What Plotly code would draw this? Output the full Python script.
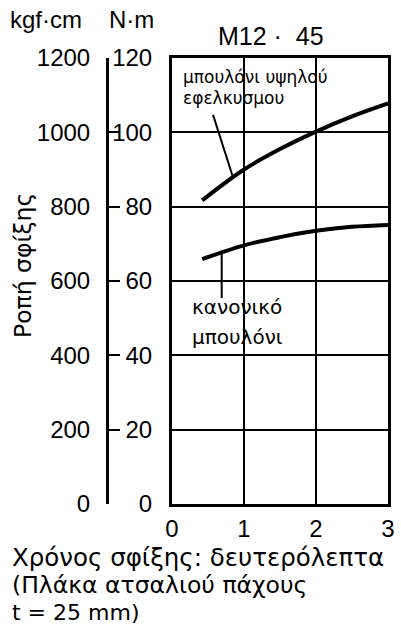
import plotly.graph_objects as go

# Data
time_high = [0.42, 1.0, 1.5, 2.0, 2.5, 3.0]
torque_high = [81.7, 90.0, 95.5, 100.2, 104.3, 107.8]
time_norm = [0.42, 1.0, 1.5, 2.0, 2.5, 3.0]
torque_norm = [65.9, 69.6, 71.8, 73.5, 74.6, 75.1]
x_ticks = [0, 1, 2, 3]
nm_ticks = [0, 20, 40, 60, 80, 100, 120]
kgf_ticks = [0, 200, 400, 600, 800, 1000, 1200]

W, H = 401, 632
ML, MR, MT, MB = 0, 13, 58, 128
paper_w = W - ML - MR
paper_h = H - MT - MB
LAT = "Liberation Sans"
GRK = "DejaVu Sans"


def px_x(px):
    return (px - ML) / paper_w


def px_y(py):
    return (H - MB - py) / paper_h


fig = go.Figure()
fig.add_trace(go.Scatter(x=time_high, y=torque_high, mode="lines",
                         line=dict(color="black", width=4, shape="spline"),
                         showlegend=False, hoverinfo="skip"))
fig.add_trace(go.Scatter(x=time_norm, y=torque_norm, mode="lines",
                         line=dict(color="black", width=4, shape="spline"),
                         showlegend=False, hoverinfo="skip"))
# dummy trace for kgf axis
fig.add_trace(go.Scatter(x=[None], y=[None], yaxis="y2", showlegend=False))

fig.update_layout(
    width=W, height=H,
    margin=dict(l=ML, r=MR, t=MT, b=MB, autoexpand=False),
    paper_bgcolor="white", plot_bgcolor="white",
    font=dict(family=LAT, size=24, color="black"),
    xaxis=dict(domain=[px_x(172), 1], range=[0, 3], tickvals=x_ticks,
               showgrid=True, gridcolor="black", gridwidth=1.5,
               showline=True, linecolor="black", linewidth=3, mirror=True,
               ticks="", ticklabelstandoff=1, zeroline=False, automargin=False,
               tickfont=dict(size=24)),
    yaxis=dict(range=[0, 120], tickvals=nm_ticks,
               showgrid=True, gridcolor="black", gridwidth=1.5,
               showline=True, linecolor="black", linewidth=3, mirror=True,
               ticks="", ticklabelstandoff=12, zeroline=False, automargin=False,
               tickfont=dict(size=24)),
    yaxis2=dict(range=[0, 1200], tickvals=kgf_ticks, overlaying="y",
                anchor="free", position=px_x(107), side="left",
                showgrid=False, zeroline=False, automargin=False,
                showline=True, linecolor="black", linewidth=3,
                ticks="inside", ticklen=11, tickwidth=2, tickcolor="black",
                ticklabelstandoff=11, tickfont=dict(size=24)),
)

annotations = [
    dict(text="kgf·cm", x=px_x(8), y=px_y(20), xanchor="left", font=dict(family=LAT, size=24)),
    dict(text="N·m", x=px_x(107), y=px_y(20), xanchor="left", font=dict(family=LAT, size=24)),
    dict(text="M12 ·  45", x=px_x(271), y=px_y(36), xanchor="center", font=dict(family=LAT, size=25)),
    dict(text="Ροπή σφίξης", x=px_x(23), y=px_y(266), xanchor="center", textangle=-90,
         font=dict(family=GRK, size=23.5)),
    dict(text="Χρόνος σφίξης: δευτερόλεπτα", x=px_x(10), y=px_y(557), xanchor="left",
         font=dict(family=GRK, size=24.5)),
    dict(text="(Πλάκα ατσαλιού πάχους", x=px_x(10), y=px_y(585), xanchor="left",
         font=dict(family=GRK, size=23.5)),
    dict(text="t = 25 mm)", x=px_x(10), y=px_y(612), xanchor="left",
         font=dict(family=GRK, size=22)),
]
for a in annotations:
    a.update(xref="paper", yref="paper", yanchor="middle", showarrow=False)

label_ann = [
    dict(text="μπουλόνι υψηλού", x=0.13, y=(504 - 77) / 3.715, font=dict(family=GRK, size=17)),
    dict(text="εφελκυσμου", x=0.13, y=(504 - 98) / 3.715, font=dict(family=GRK, size=17)),
    dict(text="κανονικό", x=0.25, y=(504 - 307) / 3.715, font=dict(family=GRK, size=20)),
    dict(text="μπουλόνι", x=0.25, y=(504 - 337) / 3.715, font=dict(family=GRK, size=20)),
]
for a in label_ann:
    a.update(xref="x", yref="y", xanchor="left", yanchor="middle", showarrow=False)

fig.update_layout(annotations=annotations + label_ann)

shapes = [
    dict(type="line", xref="x", yref="y", x0=0.57, y0=104.7, x1=0.84, y1=88.3,
         line=dict(color="black", width=2)),
    dict(type="line", xref="x", yref="y", x0=0.69, y0=67.4, x1=0.69, y1=55.4,
         line=dict(color="black", width=2)),
]
fig.update_layout(shapes=shapes)

fig.write_html("out.html")
